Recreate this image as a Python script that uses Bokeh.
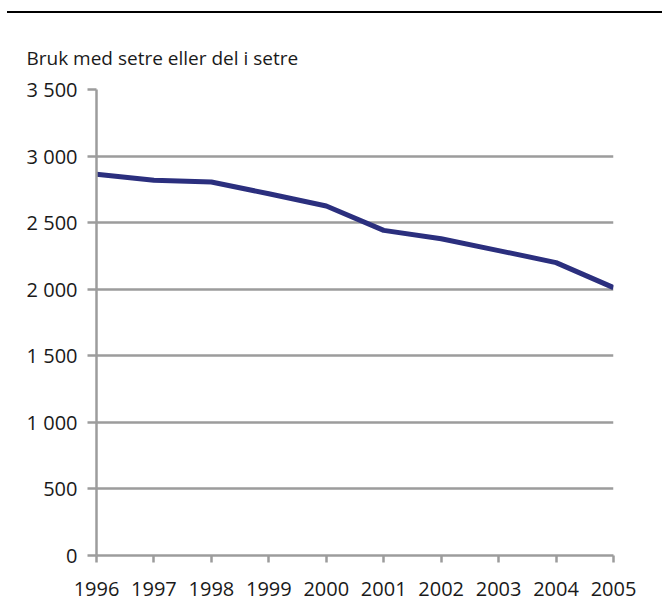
from bokeh.plotting import figure
from bokeh.models import Range1d, FixedTicker, Div
from bokeh.layouts import column
from bokeh.embed import file_html
from bokeh.resources import INLINE

years = [1996, 1997, 1998, 1999, 2000, 2001, 2002, 2003, 2004, 2005]
values = [2863, 2818, 2805, 2717, 2625, 2442, 2379, 2290, 2200, 2012]
y_ticks = [0, 500, 1000, 1500, 2000, 2500, 3000, 3500]
y_tick_labels = ["0", "500", "1 000", "1 500", "2 000", "2 500", "3 000", "3 500"]
title_text = "Bruk med setre eller del i setre"

FONT = "Open Sans"
GREY = "#9c9c9c"
TEXT = "#1a1a1a"

rule = Div(text="", width=655, height=2, margin=(11, 0, 0, 7),
           styles={"background-color": "black"})

p = figure(width=648, height=600, output_backend="svg", toolbar_location=None,
           x_range=Range1d(1996, 2005), y_range=Range1d(0, 3500),
           min_border_left=96, min_border_right=35, min_border_top=76, min_border_bottom=58,
           margin=(0, 0, 0, 0))
p.outline_line_color = None
p.background_fill_color = "white"
p.border_fill_color = "white"

p.title.text = title_text
p.title.align = "left"
p.title.offset = -70
p.title.standoff = 38
p.title.text_font = FONT
p.title.text_font_size = "19px"
p.title.text_font_style = "normal"
p.title.text_color = TEXT

p.line(years, values, line_color="#2b2f7e", line_width=5)

p.xaxis.ticker = FixedTicker(ticks=years)
p.yaxis.ticker = FixedTicker(ticks=y_ticks)
p.yaxis.major_label_overrides = {t: l for t, l in zip(y_ticks, y_tick_labels)}

for ax in (p.xaxis, p.yaxis):
    ax.axis_line_color = GREY
    ax.axis_line_width = 2.5
    ax.major_tick_line_color = GREY
    ax.major_tick_line_width = 2.5
    ax.minor_tick_line_color = None
    ax.major_tick_in = 0
    ax.major_label_text_font = FONT
    ax.major_label_text_font_size = "20px"
    ax.major_label_text_color = TEXT

p.xaxis.major_tick_out = 7
p.xaxis.major_label_standoff = 19
p.yaxis.major_tick_out = 9
p.yaxis.major_label_standoff = 10

p.xgrid.grid_line_color = None
p.ygrid.grid_line_color = GREY
p.ygrid.grid_line_width = 2.5

layout = column(rule, p, spacing=0)
open("out.html", "w").write(file_html(layout, INLINE))
